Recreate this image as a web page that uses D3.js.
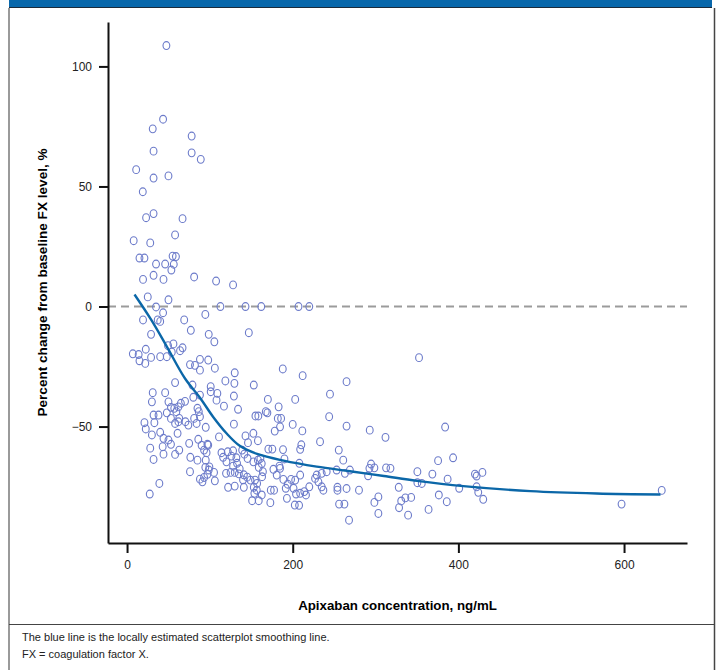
<!DOCTYPE html>
<html lang="en">
<head>
<meta charset="utf-8" />
<title>FX change vs apixaban concentration</title>
<script src="https://cdn.jsdelivr.net/npm/d3@7"></script>
<style>
  html, body { margin: 0; background: #fff; }
  svg { display: block; font-family: "Liberation Sans", Arial, sans-serif; }
</style>
</head>
<body>
<script>
// apixaban concentration (ng/mL), % change in FX from baseline
const patients = [
  [47.5,108.7],[43.5,78],[31,74],[78,71],[32,64.7],[78,64],[89,61.3],[11,57],[32,53.5],[50,54.4],
  [19,47.8],[23,37],[32,38.7],[67,36.6],
  [8,27.4],[28,26.5],[58,29.8],[15,20.2],[21,20.2],[35,17.7],[46,17.7],[55,21],[59,20.8],[56.4,17.6],
  [53.5,15.2],[19.3,11.3],[32,13],[44,11.3],[81,12.3],[107.5,10.6],[128,9],[25,4],[50,2.8],[35,-0.2],
  [43.5,-2.6],[112.7,0],[143,0],[162,0],[207,0],[220,0],[94.5,-3.3],[19.3,-5.6],[37,-5.6],[40,-6.2],
  [69,-5.6],[29,-11.6],[77,-9.9],[98.6,-11.6],[105.4,-14.7],[147,-10.9],[7,-19.7],[14,-20],[15,-22.6],
  [22,-23.7],[22.6,-17.8],[29,-21.2],[40,-20.9],[48,-20.9],[49.5,-16.3],[56,-15.6],[54,-19],[64,-18.4],
  [67,-17.2],[76,-24.2],[82,-24.5],[88,-22],[88,-26.5],[98,-22.3],[106,-25.7],[118.7,-31],[130,-27.6],
  [129.6,-32],[188,-26],[212,-28.8],[265,-31.3],[245,-36.5],[58,-31.7],[79,-32.7],[101,-33.4],[101,-35.5],
  [109,-36.2],[129,-37.3],[31,-35.9],[46,-35.9],[170,-38.7],[203,-38.7],
  [30,-39.7],[50,-39.7],[53,-42],[57,-42.4],[62,-41.8],[65,-40.3],[70,-39.5],[80,-37.8],[88,-36.9],
  [108,-39],[117,-41.5],[134,-42.8],[86.6,-43.8],[85,-42.4],[32,-45.2],[38,-45.2],[48,-44.3],[59.5,-43.8],
  [62,-48],[63,-46.6],[58,-48.7],[53,-46.6],[70.5,-48],[21,-48.4],[33,-48.4],[22.6,-51],[30,-53.5],
  [28,-59],[32,-63.7],[39,-73.7],[27.4,-78.1],[40,-52.4],[44,-54.9],[43,-58.4],[50,-55.6],[53,-57.4],
  [44,-61.5],[61,-52.8],[58,-61.6],[63,-59.8],[74,-49.4],[75,-57],[81,-46.6],[84,-48.7],[88,-45.9],
  [95,-50.3],[97,-57.4],[86,-55.3],[90,-57.8],[93,-59.8],[98,-57.7],[96,-60.9],[76.4,-62.8],[85,-64],
  [95,-64],[99.4,-66.8],[76,-68.8],[88,-71.9],[93,-71.2],[97,-69.9],[106,-72.6],[91,-73],[98.6,-68.1],
  [94.5,-67],[105,-69.1],[111,-54.3],[114,-60.9],[121.6,-60.5],[116,-62.8],[120,-64.7],[126,-62.3],
  [128,-60.1],[132,-63],[132.8,-65.3],[128,-66.5],[129,-49],[143,-53.9],[152.5,-52.8],[158,-55.9],
  [146,-56.7],[141.6,-61.5],[139,-59.8],[145.5,-63.3],[152.5,-64.7],[158,-64],[162.6,-65.4],[159,-67],
  [164,-68.8],[161,-63.3],[119.5,-69.5],[125,-69.1],[130,-69.1],[135,-69.7],[141,-70.1],[136,-67.6],
  [140,-72.2],[145,-71.1],[122,-75.3],[130,-74.8],[141,-75.3],[149,-72.3],[154.5,-72.3],[153,-75.3],
  [156.6,-76.5],[153.7,-77.8],[151,-80.9],[159,-80.9],[162.6,-78.5],[173,-81.7],[173.5,-76.5],
  [177.5,-76.5],[163,-70.9],[157,-73.7],[170.6,-59.4],[175.4,-59.4],[184,-66.5],[188.3,-59.6],[190,-63.5],
  [178.3,-51.9],[169.4,-44.3],[182,-46.6],[184.7,-50.1],[186,-46.6],[183,-41.8],[200,-49.1],[211.6,-51.8],
  [155,-45.6],[158.5,-45.6],[167.5,-43.8],[153,-32.7],[176.7,-67.8],[180.7,-70.2],[184.7,-67.4],
  [188.7,-72],[191.6,-75.7],[194,-74],[198,-72],[203,-72.3],[201,-75.7],[204,-78.1],[209,-77.8],
  [214,-77.1],[216,-78.5],[202.5,-82.7],[207.7,-82.8],[193,-79.9],[209,-70.2],[209,-59.5],[210.4,-57.6],
  [208,-65.3],[220,-75.1],[227,-71.6],[231,-73],[235,-75.1],[237,-76.5],[229,-70.2],[235,-69.5],
  [241,-68.8],[254,-75.3],[254,-76.5],[256,-82.3],[262.4,-82.3],[265,-75.8],[253,-68.1],[263,-69.5],
  [261,-64],[269,-68.1],[268,-89],[244,-45.9],[233,-56.3],[255.6,-59.8],[265,-49.8],
  [352.5,-21.3],[293,-51.5],[312,-54.5],[384,-50.2],[375.5,-64.2],[393.6,-63],[291,-70.5],[294.6,-65.6],
  [292.6,-67.4],[298.6,-67.2],[312.7,-67.2],[318,-67.4],[350.5,-68.8],[350.5,-73.4],[355.8,-73.7],
  [368.6,-69.8],[387,-71.9],[401,-75.7],[420,-69.8],[422,-70.6],[429,-69.1],[422,-75.1],[424,-77.4],
  [430,-80.3],[280,-76.5],[303.4,-79.3],[298.6,-81.6],[303.4,-86.2],[328,-75.3],[328.4,-83.8],[331,-81],
  [336,-79.7],[343,-79.5],[339.3,-86.9],[364,-84.5],[376.4,-78.5],[386,-81.3],[597,-82.3],[645.5,-76.6]
];

// LOESS smoothing line
const loessConc = [9, 30, 48, 70, 88, 104, 120, 136, 157, 189, 229, 269, 310, 350, 406, 487, 567, 644];
const loessPct  = [5, -6, -16.7, -30, -38, -46, -52.8, -58, -61.4, -64.2, -66.7, -68.6, -70.6, -72.6, -74.8, -76.9, -77.9, -78.3];

const xTicks = [0, 200, 400, 600];
const yTicks = [-50, 0, 50, 100];

const footnotes = [
  "The blue line is the locally estimated scatterplot smoothing line.",
  "FX = coagulation factor X."
];

const W = 719, H = 670;
const svg = d3.select("body").append("svg").attr("width", W).attr("height", H);

// frame: blue banner on top, grey box round the figure
svg.append("rect").attr("x", 9).attr("y", 0).attr("width", 703).attr("height", 7).attr("fill", "#0867ab");
svg.append("line").attr("x1", 9).attr("x2", 712).attr("y1", 7.5).attr("y2", 7.5).attr("stroke", "#1b2a3a").attr("stroke-width", 1.2);
svg.append("line").attr("x1", 9).attr("x2", 9).attr("y1", 8).attr("y2", H).attr("stroke", "#9a9a9a").attr("stroke-width", 2);
svg.append("line").attr("x1", 714.5).attr("x2", 714.5).attr("y1", 8).attr("y2", H).attr("stroke", "#444").attr("stroke-width", 1.5);
svg.append("line").attr("x1", 9).attr("x2", 714).attr("y1", 624.5).attr("y2", 624.5).attr("stroke", "#444").attr("stroke-width", 1.2);

const x = d3.scaleLinear().domain([-23, 676]).range([108, 687]);
const y = d3.scaleLinear().domain([-98.5, 118.5]).range([543, 22]);

// reference line at 0
svg.append("line")
  .attr("x1", x.range()[0]).attr("x2", x.range()[1])
  .attr("y1", y(0)).attr("y2", y(0))
  .attr("stroke", "#9b9b9b").attr("stroke-width", 2)
  .attr("stroke-dasharray", "8,5");

// scatter
svg.append("g")
  .selectAll("ellipse")
  .data(patients)
  .join("ellipse")
    .attr("cx", d => x(d[0]))
    .attr("cy", d => y(d[1]))
    .attr("rx", 3.4)
    .attr("ry", 3.9)
    .attr("fill", "none")
    .attr("stroke", "#6c7bca")
    .attr("stroke-width", 1.1);

// smoothing line
const loess = loessConc.map((c, i) => [c, loessPct[i]]);
svg.append("path")
  .datum(loess)
  .attr("fill", "none")
  .attr("stroke", "#0b67a8")
  .attr("stroke-width", 2.4)
  .attr("d", d3.line().x(d => x(d[0])).y(d => y(d[1])).curve(d3.curveCatmullRom.alpha(0.5)));

// axes
const xAxis = svg.append("g")
  .attr("transform", `translate(0,${y.range()[0]})`)
  .call(d3.axisBottom(x).tickValues(xTicks).tickSize(10).tickSizeOuter(0).tickPadding(7));
const yAxis = svg.append("g")
  .attr("transform", `translate(${x.range()[0]},0)`)
  .call(d3.axisLeft(y).tickValues(yTicks).tickSize(9).tickSizeOuter(0).tickPadding(7));

[xAxis, yAxis].forEach(g => {
  g.select(".domain").attr("stroke", "#111").attr("stroke-width", 2);
  g.selectAll(".tick line").attr("stroke", "#111").attr("stroke-width", 2);
  g.selectAll(".tick text")
    .attr("fill", "#222")
    .style("font-family", "'Liberation Sans', Arial, sans-serif")
    .style("font-size", "12px");
});

svg.append("text")
  .attr("x", (x.range()[0] + x.range()[1]) / 2)
  .attr("y", 610)
  .attr("text-anchor", "middle")
  .style("font-size", "13.3px").style("font-weight", "bold")
  .text("Apixaban concentration, ng/mL");

svg.append("text")
  .attr("transform", `translate(47,${(y.range()[0] + y.range()[1]) / 2}) rotate(-90)`)
  .attr("text-anchor", "middle")
  .style("font-size", "13.6px").style("font-weight", "bold")
  .text("Percent change from baseline FX level, %");

svg.append("g")
  .selectAll("text")
  .data(footnotes)
  .join("text")
    .attr("x", 22)
    .attr("y", (d, i) => 641 + i * 17)
    .style("font-family", "'Liberation Sans Narrow', 'Liberation Sans', Arial, sans-serif")
    .style("font-size", "11px")
    .attr("fill", "#222")
    .text(d => d);
</script>
</body>
</html>
